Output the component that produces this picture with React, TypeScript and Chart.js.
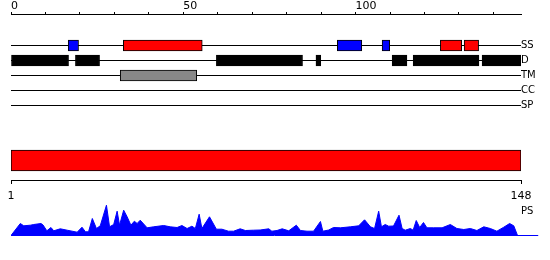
import React, { useEffect, useRef } from 'react';
import { Chart, registerables } from 'chart.js';

Chart.register(...registerables);

// ---------- data ----------
const TRACKS = ['SS', 'D', 'TM', 'CC', 'SP'];
const SEQ_LENGTH = 148;
const TOP_TICK_STEP = 10;
const TOP_LABEL_EVERY = 50;

// secondary structure (H = helix, E = strand)
const SS_START = [16.6, 32.6, 94.7, 107.7, 124.6, 131.5];
const SS_END = [19.6, 55.5, 101.8, 109.9, 130.8, 135.7];
const SS_TYPE = ['E', 'H', 'E', 'E', 'H', 'H'];

// disordered regions
const D_START = [0, 18.7, 59.6, 88.5, 110.6, 116.7, 136.7];
const D_END = [16.7, 25.7, 84.6, 89.9, 114.9, 135.8, 148];

// transmembrane
const TM_START = [31.7];
const TM_END = [53.9];

// PS profile (position, score)
const PS_POS = [0, 2.7, 3.7, 5.6, 6.6, 8.7, 9.3, 10.4, 11.6, 12.4, 14.3, 16.3, 19.2, 20.6, 21.6, 22.5, 23.6, 24.8, 25.9, 27.7, 28.6, 29.8, 30.8, 31.5, 32.7, 33.7, 34.8, 35.8, 36.6, 37.5, 39.5, 41.4, 44.3, 46.2, 48.2, 49.6, 51.1, 52.5, 53.5, 54.6, 55.4, 57.6, 59.6, 61.2, 63.1, 64.6, 66.5, 68, 70.4, 72.3, 74.8, 75.7, 77.2, 78.7, 80.6, 82.8, 84, 85.9, 87.8, 89.8, 90.5, 92.2, 93.6, 95.6, 98.5, 100.9, 102.6, 104.3, 105.5, 106.7, 107.5, 108.6, 109.6, 111, 112.6, 113.5, 114.4, 115.9, 116.7, 117.6, 118.6, 119.7, 120.7, 122.6, 125.1, 127.5, 129.4, 131.4, 133.3, 135.2, 137.2, 139.1, 141, 143, 144.7, 145.9, 147];
const PS_VAL = [0, 12, 9.7, 10.3, 11, 12, 10.5, 4.7, 8, 4.7, 6.7, 5.3, 3.3, 8.3, 3.7, 3.7, 17, 7, 9.7, 30.3, 8.7, 11, 24.3, 10.3, 25.3, 18.7, 10.3, 14.3, 12, 15.3, 7.7, 8.7, 10, 8.7, 8, 10, 7, 9.3, 7, 21.3, 7, 18.7, 6.3, 6.3, 4.3, 4.3, 6.7, 5, 5.3, 5.5, 6.7, 4.3, 5, 6.7, 4.7, 10.3, 5, 4.3, 4.3, 14, 4.3, 5.5, 8, 7.7, 8.7, 9.7, 15.7, 8.7, 7, 24.3, 8.7, 11, 9.3, 9.5, 20.3, 7, 5.3, 7, 5.3, 15, 8, 13, 7.7, 7.7, 7.7, 11, 7, 6, 7, 5, 8.7, 7, 4.3, 8.3, 12, 9.7, 0];
const PS_MAX = 35;
const PS_LABEL_LEVEL = 24.5;
const PS_BASELINE_END = 153;

// ---------- styles ----------
const FONT = 'DejaVu Sans';
const RED = '#ff0000';
const BLUE = '#0000ff';
const GRAY = '#888888';
const BLACK = '#000000';

function boxes(starts: number[], ends: number[], row: number) {
  return starts.map((s, i) => ({ x: [s, ends[i]], y: row }));
}

function makeTracks(canvas: HTMLCanvasElement) {
  const barStyle = { borderColor: BLACK, borderWidth: 1, borderSkipped: false, barThickness: 11, grouped: false };
  return new Chart(canvas, {
    type: 'bar',
    data: {
      datasets: [
        { label: 'SS', data: boxes(SS_START, SS_END, 0), backgroundColor: SS_TYPE.map(t => (t === 'H' ? RED : BLUE)), ...barStyle },
        { label: 'D', data: boxes(D_START, D_END, 1), backgroundColor: BLACK, ...barStyle },
        { label: 'TM', data: boxes(TM_START, TM_END, 2), backgroundColor: GRAY, ...barStyle },
      ] as any,
    },
    options: {
      indexAxis: 'y',
      responsive: false,
      animation: false,
      devicePixelRatio: 1,
      layout: { padding: { left: 11, right: 0, top: 0, bottom: 7 } },
      plugins: { legend: { display: false }, tooltip: { enabled: false } },
      scales: {
        x: {
          type: 'linear',
          position: 'top',
          min: 0,
          max: SEQ_LENGTH,
          offset: false,
          afterFit: (s: any) => { s.height = 14; },
          ticks: {
            stepSize: TOP_TICK_STEP,
            includeBounds: false,
            autoSkip: false,
            maxRotation: 0,
            align: 'start',
            padding: -1,
            color: BLACK,
            font: { size: 11, family: FONT },
            callback: (v: any) => (Number(v) % TOP_LABEL_EVERY === 0 ? String(v) : ''),
          },
          grid: { drawOnChartArea: false, drawTicks: true, tickLength: 2, color: BLACK, offset: false },
          border: { display: true, color: BLACK, width: 1 },
        },
        y: {
          type: 'linear',
          position: 'right',
          reverse: true,
          offset: false,
          min: -2.1,
          max: 4.5,
          afterFit: (s: any) => { s.width = 29; },
          afterBuildTicks: (s: any) => { s.ticks = TRACKS.map((_, i) => ({ value: i })); },
          ticks: {
            padding: 0,
            color: BLACK,
            font: { size: 10, family: FONT },
            callback: (v: any) => TRACKS[Number(v)] ?? '',
          },
          grid: { drawTicks: false, color: BLACK, lineWidth: 1, offset: false },
          border: { display: false },
        },
      },
    } as any,
  });
}

function makeSequence(canvas: HTMLCanvasElement) {
  return new Chart(canvas, {
    type: 'bar',
    data: {
      labels: ['sequence'],
      datasets: [{
        data: [[1, SEQ_LENGTH]],
        backgroundColor: RED,
        borderColor: BLACK,
        borderWidth: 1,
        borderSkipped: false,
        barThickness: 21,
      }] as any,
    },
    options: {
      indexAxis: 'y',
      responsive: false,
      animation: false,
      devicePixelRatio: 1,
      layout: { padding: { left: 11, right: 29, top: 11, bottom: 0 } },
      plugins: { legend: { display: false }, tooltip: { enabled: false } },
      scales: {
        x: {
          type: 'linear',
          position: 'bottom',
          min: 1,
          max: SEQ_LENGTH,
          afterFit: (s: any) => { s.height = 30; },
          afterBuildTicks: (s: any) => { s.ticks = [{ value: 1 }, { value: SEQ_LENGTH }]; },
          ticks: { padding: 5.5, autoSkip: false, maxRotation: 0, color: BLACK, font: { size: 11, family: FONT } },
          grid: { drawOnChartArea: false, tickLength: 4, color: BLACK },
          border: { display: true, color: BLACK, width: 1 },
        },
        y: { display: false },
      },
    } as any,
  });
}

function makePS(canvas: HTMLCanvasElement) {
  return new Chart(canvas, {
    type: 'line',
    data: {
      datasets: [
        {
          label: 'PS',
          data: PS_POS.map((x, i) => ({ x, y: PS_VAL[i] })),
          borderColor: BLUE,
          backgroundColor: BLUE,
          borderWidth: 1,
          fill: 'origin',
          pointRadius: 0,
          tension: 0,
        },
        {
          label: 'baseline',
          data: [{ x: 0, y: 0 }, { x: PS_BASELINE_END, y: 0 }],
          borderColor: BLUE,
          borderWidth: 1,
          fill: false,
          pointRadius: 0,
          clip: false,
        },
      ] as any,
    },
    options: {
      responsive: false,
      animation: false,
      devicePixelRatio: 1,
      layout: { padding: { left: 11, right: 0, top: 10.5, bottom: 24.5 } },
      plugins: { legend: { display: false }, tooltip: { enabled: false } },
      scales: {
        x: { type: 'linear', display: false, min: 0, max: SEQ_LENGTH },
        y: {
          type: 'linear',
          position: 'right',
          min: 0,
          max: PS_MAX,
          afterFit: (s: any) => { s.width = 29; },
          afterBuildTicks: (s: any) => { s.ticks = [{ value: PS_LABEL_LEVEL }]; },
          ticks: { padding: 0, color: BLACK, font: { size: 10, family: FONT }, callback: () => 'PS' },
          grid: { display: false, drawTicks: false },
          border: { display: false },
        },
      },
    } as any,
  });
}

export default function App() {
  const aRef = useRef<HTMLCanvasElement>(null);
  const bRef = useRef<HTMLCanvasElement>(null);
  const cRef = useRef<HTMLCanvasElement>(null);

  useEffect(() => {
    Chart.defaults.font.family = FONT;
    Chart.defaults.color = BLACK;
    const charts = [
      makeTracks(aRef.current!),
      makeSequence(bRef.current!),
      makePS(cRef.current!),
    ];
    return () => charts.forEach(c => c.destroy());
  }, []);

  return (
    <div style={{ position: 'absolute', left: 0, top: 0, width: 550, height: 260, background: '#ffffff' }}>
      <canvas ref={aRef} width={550} height={120} style={{ position: 'absolute', left: 0, top: 0 }} />
      <canvas ref={bRef} width={550} height={80} style={{ position: 'absolute', left: 0, top: 130 }} />
      <canvas ref={cRef} width={550} height={70} style={{ position: 'absolute', left: 0, top: 190 }} />
    </div>
  );
}
